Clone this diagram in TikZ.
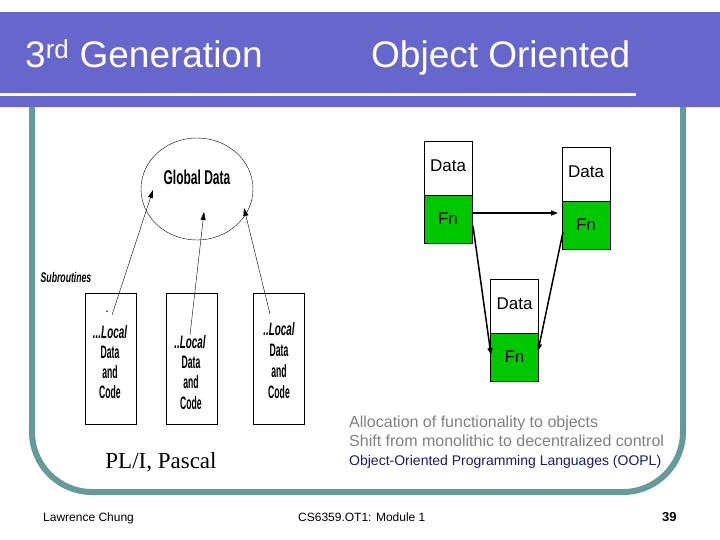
\documentclass[tikz,border=0pt]{standalone}
\usepackage{fontspec}
\setmainfont{Liberation Sans}
\newfontfamily\timesface{Liberation Serif}
\usetikzlibrary{shapes.geometric,arrows.meta}
\definecolor{bandblue}{HTML}{6666CC}
\definecolor{frameteal}{HTML}{669999}
\definecolor{fngreen}{HTML}{00C800}
\definecolor{notegray}{HTML}{808080}
\definecolor{ooplblue}{HTML}{1A1A66}
\newcommand{\cond}[2][0.48]{\scalebox{#1}[1]{#2}}
\newcommand{\uplabel}[1]{\raisebox{4pt}{#1}}
\tikzset{
  databox/.style={draw, fill=white, minimum width=48pt, minimum height=54pt, inner sep=0pt, font=\fontsize{17}{17}\selectfont},
  fnbox/.style={draw, fill=fngreen, minimum width=48pt, minimum height=48pt, inner sep=0pt, font=\fontsize{17}{17}\selectfont},
  subbox/.style={draw, thin, minimum width=51pt, minimum height=131pt, inner sep=0pt},
  subtext/.style={inner sep=0pt, font=\bfseries\fontsize{18}{18}\selectfont},
  localtext/.style={inner sep=0pt, font=\bfseries\itshape\fontsize{18}{18}\selectfont},
  note/.style={anchor=base west, inner sep=0pt}
}
\begin{document}
\begin{tikzpicture}[x=1pt, y=-1pt]
\useasboundingbox (0,0) rectangle (720,540);
% title band
\fill[bandblue] (0,12) rectangle (720,107);
\draw[white, line width=3pt] (0,95) -- (636,95);
\node[white, anchor=base west, inner sep=0pt, font=\fontsize{37}{37}\selectfont] (gen) at (25,68) {3\textsuperscript{rd} Generation};
\node[white, anchor=base west, inner sep=0pt, font=\fontsize{37}{37}\selectfont] (oo) at (371,68) {Object Oriented};
% frame
\draw[frameteal, line width=6pt, rounded corners=60pt] (32,107) -- (32,492) -- (683,492) -- (683,107);

% left: global data and subroutines
\node[draw, ellipse, minimum width=112pt, minimum height=102pt] (global) at (197,189) {};
\node[inner sep=0pt, font=\bfseries\fontsize{20}{20}\selectfont] (globaltxt) at (197,177) {\cond[0.6]{Global Data}};
\node[inner sep=0pt, font=\bfseries\itshape\fontsize{14}{14}\selectfont] (subs) at (66,277) {\cond[0.62]{Subroutines}};
\foreach \n/\x in {1/110.5, 2/191.5, 3/278.5}
  \node[subbox] (sub\n) at (\x,358.5) {};
% box texts
\node[inner sep=0pt, font=\bfseries\fontsize{9}{9}\selectfont] (dot1) at (107,312) {.};
\node[localtext] (loc1) at (110,332) {\cond[0.55]{...Local}};
\node[localtext] (loc2) at (190,342) {\cond[0.55]{..Local}};
\node[localtext] (loc3) at (279,329) {\cond[0.55]{..Local}};
\foreach \n/\x/\y in {1/110/352, 2/191/362, 3/279/350}
  \node[subtext] (dat\n) at (\x,\y) {\cond{Data}};
\foreach \n/\x/\y in {1/110/372, 2/191/382, 3/279/371}
  \node[subtext] (and\n) at (\x,\y) {\cond{and}};
\foreach \n/\x/\y in {1/110/392, 2/191/403, 3/279/392}
  \node[subtext] (cod\n) at (\x,\y) {\cond{Code}};
\coordinate (s1) at (112,315); \coordinate (g1) at (153,190);
\coordinate (s2) at (190,335); \coordinate (g2) at (204,212);
\coordinate (s3) at (270,314); \coordinate (g3) at (244,208);
\foreach \n in {1,2,3}
  \draw[thin, -{Triangle[length=8pt, width=5pt]}] (s\n) -- (g\n);

% right: objects
\node[databox] (dataA) at (448,168) {\uplabel{Data}};
\node[fnbox] (fnA) at (448,219) {Fn};
\node[databox] (dataB) at (586,174) {\uplabel{Data}};
\node[fnbox] (fnB) at (586,225) {Fn};
\node[databox] (dataC) at (514.5,306) {\uplabel{Data}};
\node[fnbox] (fnC) at (514.5,357) {Fn};
\coordinate (ab) at (558,213); \coordinate (ac) at (491,355); \coordinate (bc) at (538,351);
\coordinate (fromA) at (473,226); \coordinate (fromB) at (563,232);
\draw[line width=1.5pt, -{Triangle[length=7pt, width=5pt]}] (fnA.east |- ab) -- (ab);
\draw[line width=1.5pt, -{Triangle[length=7pt, width=5pt]}] (fromA) -- (ac);
\draw[line width=1.5pt, -{Triangle[length=7pt, width=5pt]}] (fromB) -- (bc);

% notes
\node[note, notegray, font=\fontsize{16}{16}\selectfont] (alloc) at (349,427) {Allocation of functionality to objects};
\node[note, notegray, font=\fontsize{16}{16}\selectfont] (shift) at (349,446) {Shift from monolithic to decentralized control};
\node[note, ooplblue, font=\fontsize{14}{14}\selectfont] (oopl) at (349,465) {Object-Oriented Programming Languages (OOPL)};
\node[inner sep=0pt, font=\timesface\fontsize{23}{23}\selectfont] (pascal) at (161,462) {PL/I, Pascal};

% footer
\node[note, font=\fontsize{12}{12}\selectfont] (author) at (43,521) {Lawrence Chung};
\node[note, font=\fontsize{12}{12}\selectfont] (course) at (298,521) {CS6359.OT1: Module 1};
\node[note, font=\bfseries\fontsize{13}{13}\selectfont] (page) at (662,521) {39};
\end{tikzpicture}
\end{document}
